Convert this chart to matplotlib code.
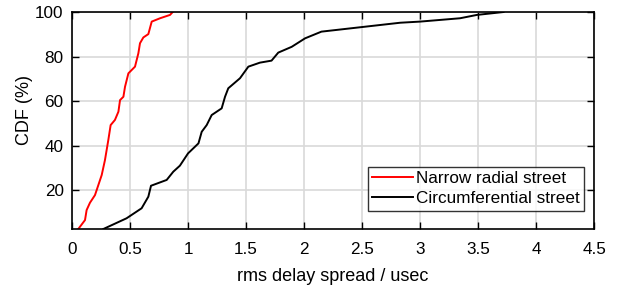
import matplotlib
matplotlib.use("Agg")
import matplotlib.pyplot as plt

plt.rcParams['font.family'] = ['Liberation Sans', 'DejaVu Sans']

# rms delay spread (usec) vs CDF (%)
radial_x = [0.054, 0.112, 0.126, 0.155, 0.198, 0.227, 0.256, 0.284, 0.313, 0.333,
            0.37, 0.40, 0.414, 0.443, 0.457, 0.486, 0.543, 0.572, 0.586, 0.615,
            0.658, 0.687, 0.759, 0.845, 0.868]
radial_cdf = [2.7, 6.7, 11.2, 14.5, 17.9, 22.4, 26.9, 33.6, 42.6, 49.3,
              51.6, 55.3, 60.5, 62.0, 66.5, 72.5, 75.5, 81.5, 86.0, 88.6,
              90.1, 95.7, 97.2, 98.7, 100]

circ_x = [0.27, 0.47, 0.60, 0.658, 0.681, 0.816, 0.873, 0.93, 1.0, 1.09,
          1.118, 1.161, 1.204, 1.29, 1.319, 1.347, 1.448, 1.52, 1.62, 1.72,
          1.778, 1.894, 2.009, 2.15, 2.83, 3.0, 3.345, 3.49, 3.72]
circ_cdf = [2.7, 7.5, 12.0, 17.2, 22.1, 24.7, 28.4, 31.1, 36.6, 41.1,
            46.3, 49.3, 53.8, 56.8, 62.0, 65.8, 70.3, 75.5, 77.3, 78.2,
            81.8, 84.4, 88.2, 91.2, 95.2, 95.7, 97.2, 98.7, 100]

fig = plt.figure(figsize=(6.24, 2.93), dpi=100)
ax = fig.add_axes([0.1154, 0.2184, 0.8366, 0.7406])

ax.plot(radial_x, radial_cdf, color='red', lw=1.4, label='Narrow radial street')
ax.plot(circ_x, circ_cdf, color='black', lw=1.4, label='Circumferential street')

ax.set_xlim(0, 4.5)
ax.set_ylim(2.7, 100)
ax.set_xticks([0, 0.5, 1, 1.5, 2, 2.5, 3, 3.5, 4, 4.5])
ax.set_xticklabels(['0', '0.5', '1', '1.5', '2', '2.5', '3', '3.5', '4', '4.5'])
ax.set_yticks([20, 40, 60, 80, 100])
ax.grid(True, color='#d9d9d9', lw=1.2)
ax.set_axisbelow(True)
ax.tick_params(direction='in', length=5, width=1, top=True, right=True,
               labelsize=12.3)
ax.tick_params(axis='x', pad=9)
ax.tick_params(axis='y', pad=6)
for s in ax.spines.values():
    s.set_linewidth(1.2)

ax.set_xlabel('rms delay spread / usec', fontsize=13, labelpad=8)
ax.set_ylabel('CDF (%)', fontsize=13)
ax.yaxis.set_label_coords(-0.075, 0.55)

leg = ax.legend(loc='lower right', bbox_to_anchor=(0.98, 0.085), fontsize=12.3,
                frameon=True, fancybox=False, handlelength=2.4,
                handletextpad=0.15, borderpad=0.25, labelspacing=0.3,
                borderaxespad=0)
leg.get_frame().set_edgecolor('black')
leg.get_frame().set_linewidth(1.0)

fig.savefig('out.png', dpi=100)
